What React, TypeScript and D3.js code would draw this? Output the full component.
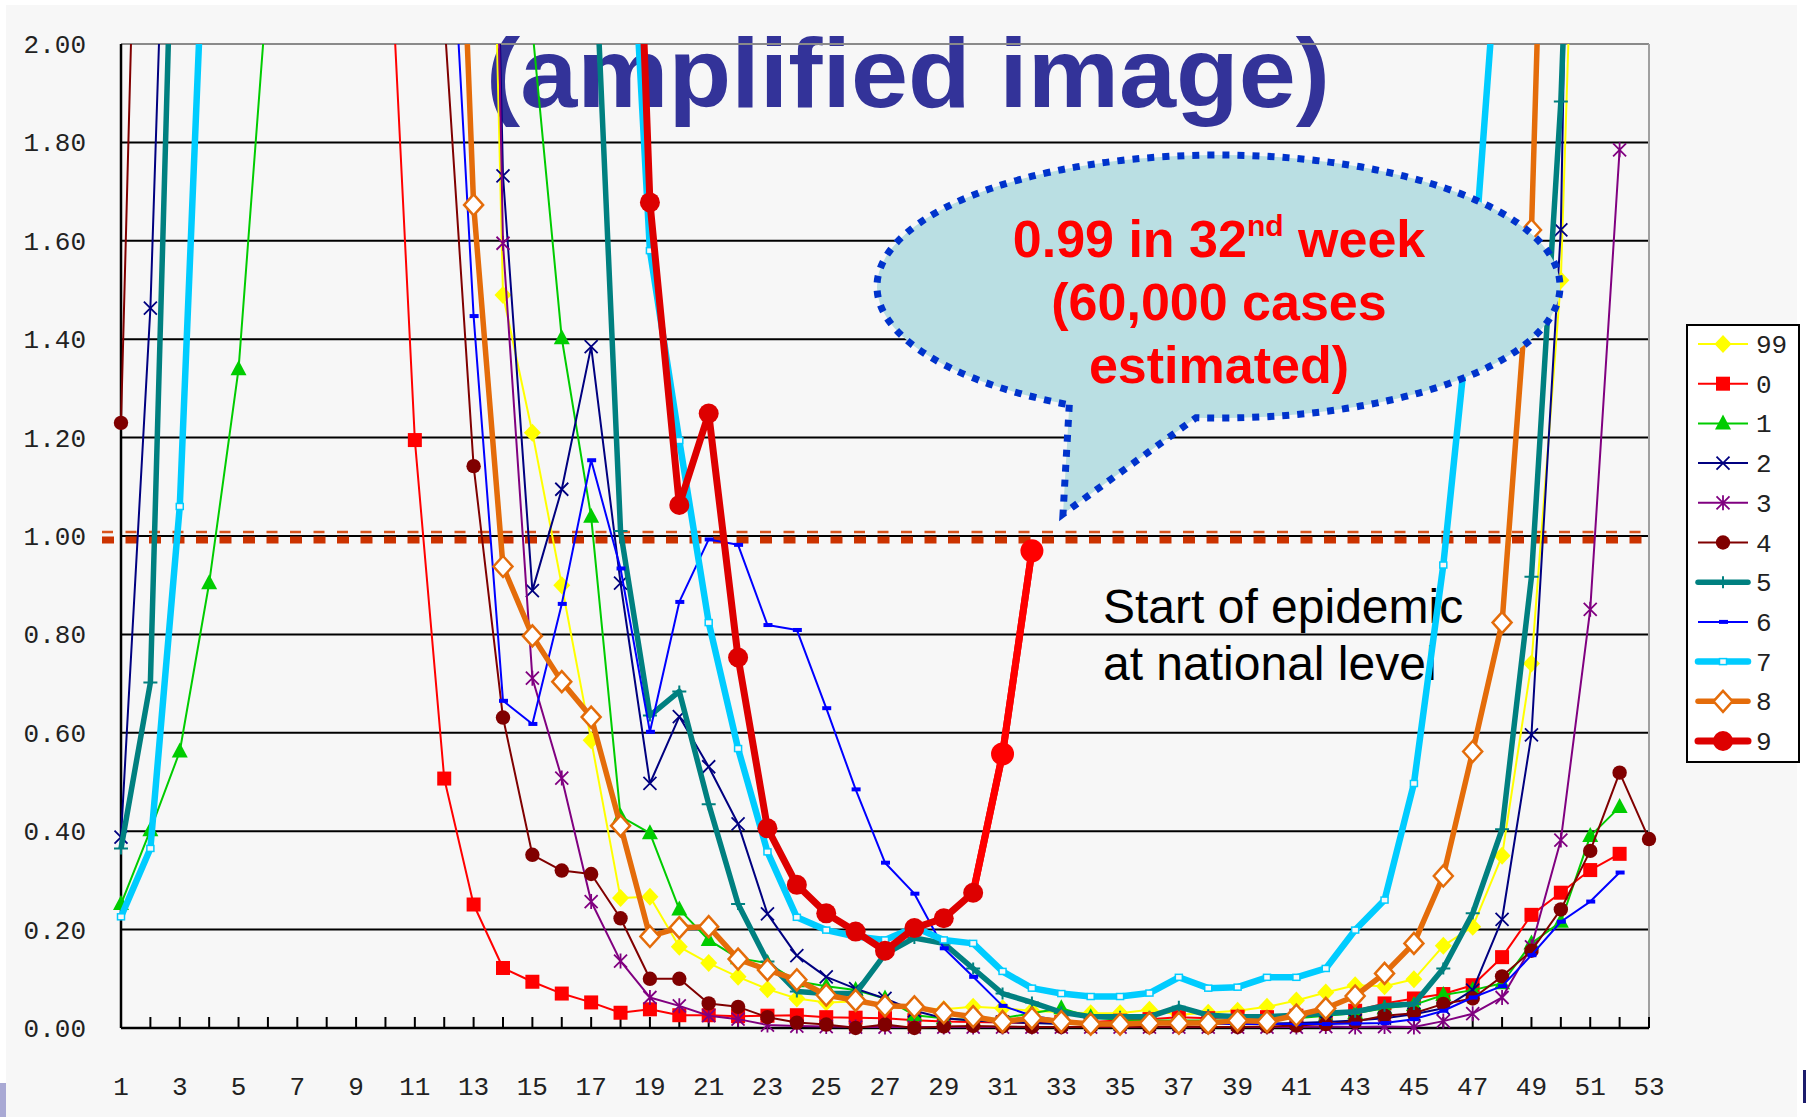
import React from 'react';
import * as d3 from 'd3';

// weekly ratio values, index 0 = week 1 ... index 52 = week 53 (null = not drawn / off chart)
const weeks = d3.range(1, 54);
const yTicks = [0, 0.2, 0.4, 0.6, 0.8, 1.0, 1.2, 1.4, 1.6, 1.8, 2.0];
const xLabelWeeks = d3.range(1, 54, 2);

const series99 = [
  null, null, null, null, null, null, null, null, null, null,
  null, null, 4.0, 1.49, 1.21, 0.9, 0.585, 0.264, 0.267, 0.165,
  0.132, 0.104, 0.079, 0.06, 0.052, 0.054, 0.043, 0.04, 0.038, 0.043,
  0.04, 0.035, 0.032, 0.03, 0.03, 0.037, 0.027, 0.031, 0.035, 0.043,
  0.056, 0.072, 0.087, 0.085, 0.099, 0.167, 0.206, 0.35, 0.741, 1.52,
  3.4, null, null,
];
const series0 = [
  null, null, null, null, null, null, null, null, null, 2.4,
  1.195, 0.507, 0.251, 0.122, 0.094, 0.07, 0.052, 0.031, 0.038, 0.026,
  0.026, 0.024, 0.025, 0.026, 0.022, 0.021, 0.02, 0.016, 0.013, 0.012,
  0.011, 0.01, 0.012, 0.012, 0.015, 0.018, 0.022, 0.02, 0.023, 0.022,
  0.025, 0.03, 0.035, 0.05, 0.06, 0.069, 0.087, 0.144, 0.23, 0.275,
  0.321, 0.354, null,
];
const series1 = [
  0.252, 0.402, 0.562, 0.904, 1.339, 2.13, null, null, null, null,
  null, null, null, null, 2.03, 1.402, 1.039, 0.43, 0.396, 0.241,
  0.179, 0.142, 0.132, 0.095, 0.085, 0.077, 0.06, 0.026, 0.02, 0.016,
  0.02, 0.03, 0.04, 0.022, 0.016, 0.015, 0.015, 0.015, 0.015, 0.016,
  0.02, 0.025, 0.03, 0.04, 0.047, 0.067, 0.077, 0.091, 0.172, 0.216,
  0.39, 0.449, null,
];
const series2 = [
  0.388, 1.463, 3.3, null, null, null, null, null, null, null,
  null, null, 4.4, 1.732, 0.889, 1.095, 1.385, 0.904, 0.497, 0.633,
  0.531, 0.415, 0.232, 0.147, 0.104, 0.08, 0.06, 0.035, 0.02, 0.015,
  0.012, 0.01, 0.008, 0.008, 0.008, 0.008, 0.008, 0.008, 0.008, 0.009,
  0.01, 0.012, 0.015, 0.02, 0.028, 0.04, 0.077, 0.221, 0.596, 1.622,
  5.0, null, null,
];
const series3 = [
  null, null, null, null, null, null, null, null, null, null,
  null, null, 4.7, 1.595, 0.711, 0.508, 0.257, 0.136, 0.062, 0.045,
  0.025, 0.018, 0.006, 0.004, 0.003, 0.002, 0.002, 0.002, 0.002, 0.002,
  0.002, 0.002, 0.002, 0.002, 0.002, 0.002, 0.002, 0.002, 0.002, 0.002,
  0.002, 0.003, 0.002, 0.003, 0.002, 0.014, 0.029, 0.062, 0.165, 0.382,
  0.851, 1.785, null,
];
const series4 = [
  1.23, 3.5, null, null, null, null, null, null, null, null,
  null, 2.055, 1.142, 0.631, 0.352, 0.32, 0.313, 0.223, 0.1, 0.1,
  0.05, 0.043, 0.022, 0.011, 0.007, 0.0, 0.007, 0.0, 0.003, 0.004,
  0.003, 0.002, 0.002, 0.002, 0.003, 0.002, 0.003, 0.002, 0.002, 0.003,
  0.005, 0.008, 0.013, 0.025, 0.03, 0.049, 0.06, 0.105, 0.157, 0.241,
  0.36, 0.519, 0.384,
];
const series5 = [
  0.365, 0.702, 2.83, null, null, null, null, null, null, null,
  null, null, null, null, null, null, 2.37, 1.01, 0.635, 0.684,
  0.455, 0.252, 0.135, 0.074, 0.07, 0.07, 0.15, 0.183, 0.172, 0.121,
  0.07, 0.052, 0.032, 0.023, 0.023, 0.023, 0.043, 0.026, 0.023, 0.023,
  0.026, 0.03, 0.033, 0.045, 0.049, 0.121, 0.233, 0.404, 0.917, 1.883,
  3.5, null, null,
];
const series6 = [
  null, null, null, null, null, null, null, null, null, null,
  null, 2.53, 1.447, 0.665, 0.618, 0.862, 1.154, 0.934, 0.602, 0.866,
  0.993, 0.982, 0.819, 0.809, 0.65, 0.485, 0.336, 0.273, 0.162, 0.104,
  0.045, 0.025, 0.015, 0.01, 0.009, 0.008, 0.008, 0.008, 0.008, 0.008,
  0.008, 0.008, 0.009, 0.01, 0.018, 0.035, 0.062, 0.085, 0.148, 0.216,
  0.257, 0.316, null,
];
const series7 = [
  0.226, 0.365, 1.06, 2.5, null, null, null, null, null, null,
  null, null, null, null, null, null, null, 2.68, 1.58, 1.194,
  0.824, 0.568, 0.358, 0.225, 0.199, 0.186, 0.179, 0.205, 0.179, 0.172,
  0.115, 0.081, 0.07, 0.064, 0.064, 0.071, 0.103, 0.081, 0.083, 0.103,
  0.103, 0.121, 0.199, 0.26, 0.497, 0.941, 1.52, 2.32, null, null,
  null, null, null,
];
const series8 = [
  null, null, null, null, null, null, null, null, null, null,
  null, 3.2, 1.673, 0.938, 0.797, 0.704, 0.632, 0.411, 0.186, 0.204,
  0.206, 0.14, 0.118, 0.098, 0.067, 0.056, 0.045, 0.043, 0.031, 0.023,
  0.013, 0.02, 0.013, 0.008, 0.008, 0.01, 0.01, 0.01, 0.015, 0.013,
  0.026, 0.04, 0.065, 0.111, 0.172, 0.309, 0.562, 0.824, 1.622, 3.6,
  null, null, null,
];
const series9 = [
  null, null, null, null, null, null, null, null, null, null,
  null, null, null, null, null, null, null, 3.3, 1.678, 1.063,
  1.249, 0.753, 0.406, 0.291, 0.233, 0.196, 0.157, 0.203, 0.223, 0.275,
  0.557, 0.97, null, null, null, null, null, null, null, null,
  null, null, null, null, null, null, null, null, null, null,
  null, null, null,
];

const seriesNames = ['99', '0', '1', '2', '3', '4', '5', '6', '7', '8', '9'];
const seriesValues = [series99, series0, series1, series2, series3, series4, series5, series6, series7, series8, series9];
const seriesColors = ['#ffff00', '#ff0000', '#00cc00', '#000080', '#800080', '#800000', '#008080', '#0000ff', '#00ccff', '#e46c0a', '#dd0000'];
const seriesWidths = [2, 2, 2, 2, 2, 2, 5.5, 2, 6.5, 5.5, 7];
const seriesMarkers = ['diamond', 'square', 'triangle', 'x', 'asterisk', 'circle', 'plus', 'dash', 'box', 'openDiamond', 'bigCircle'];

const thresholdValues = [1.008, 0.992];

const W = 1806;
const H = 1117;

const x = d3.scaleLinear().domain([1, 53]).range([121, 1649]);
const y = d3.scaleLinear().domain([0, 2]).range([1028, 44]);

function Marker({ kind, cx, cy, color, big }: { kind: string; cx: number; cy: number; color: string; big?: boolean }) {
  switch (kind) {
    case 'diamond':
      return <path d={`M${cx},${cy - 9}L${cx + 8.5},${cy}L${cx},${cy + 9}L${cx - 8.5},${cy}Z`} fill={color} />;
    case 'square':
      return <rect x={cx - 7} y={cy - 7} width={14} height={14} fill={color} />;
    case 'triangle':
      return <path d={`M${cx},${cy - 9}L${cx + 8},${cy + 6}L${cx - 8},${cy + 6}Z`} fill={color} />;
    case 'x':
      return (
        <path d={`M${cx - 6.5},${cy - 6.5}L${cx + 6.5},${cy + 6.5}M${cx - 6.5},${cy + 6.5}L${cx + 6.5},${cy - 6.5}`} stroke={color} strokeWidth={1.8} />
      );
    case 'asterisk':
      return (
        <path
          d={`M${cx - 6.5},${cy - 6.5}L${cx + 6.5},${cy + 6.5}M${cx - 6.5},${cy + 6.5}L${cx + 6.5},${cy - 6.5}M${cx},${cy - 7.5}L${cx},${cy + 7.5}`}
          stroke={color}
          strokeWidth={1.8}
        />
      );
    case 'circle':
      return <circle cx={cx} cy={cy} r={7.2} fill={color} />;
    case 'plus':
      return <path d={`M${cx - 7},${cy}L${cx + 7},${cy}M${cx},${cy - 6}L${cx},${cy + 6}`} stroke={color} strokeWidth={2} />;
    case 'dash':
      return <rect x={cx - 4} y={cy - 2} width={9} height={4} fill={color} />;
    case 'box':
      return <rect x={cx - 3.5} y={cy - 3} width={7} height={6} fill="#f7f7f7" stroke={color} strokeWidth={1.5} />;
    case 'openDiamond':
      return (
        <path d={`M${cx},${cy - 10.5}L${cx + 9.5},${cy}L${cx},${cy + 10.5}L${cx - 9.5},${cy}Z`} fill="#ffffff" stroke={color} strokeWidth={2.5} />
      );
    case 'bigCircle':
      return <circle cx={cx} cy={cy} r={big ? 11.5 : 10} fill={color} />;
    default:
      return null;
  }
}

export default function App() {
  const line = (vals: (number | null)[], from = 0) =>
    d3
      .line<number | null>()
      .defined((v, i) => v != null && i >= from)
      .x((_, i) => x(weeks[i]))
      .y((v) => y(v as number))(vals) || '';

  // callout geometry
  const ecx = 1218.5, ecy = 286.5, erx = 341.5, ery = 131.5;
  const tailL = [1069.3, ecy + ery * Math.sqrt(1 - ((1069.3 - ecx) / erx) ** 2)];
  const tailR = [1196, ecy + ery * Math.sqrt(1 - ((1196 - ecx) / erx) ** 2)];
  const tip = [1063, 514];
  const calloutPath = `M${tailL[0]},${tailL[1]}L${tip[0]},${tip[1]}L${tailR[0]},${tailR[1]}A${erx},${ery} 0 1 0 ${tailL[0]},${tailL[1]}Z`;

  const legendX = 1687, legendY = 325, legendW = 112, legendH = 437;

  return (
    <svg
      width={W}
      height={H}
      style={{ position: 'absolute', left: 0, top: 0, display: 'block', background: '#ffffff' }}
      fontFamily="Liberation Sans, Arial, sans-serif"
    >
      <defs>
        <clipPath id="plotClip">
          <rect x={90} y={44} width={1600} height={H - 44} />
        </clipPath>
      </defs>
      <rect x={6} y={5} width={1791} height={H - 5} fill="#f7f7f7" />
      <rect x={0} y={1083} width={6} height={34} fill="#a9a9d4" />
      <rect x={1803} y={1070} width={3} height={33} fill="#1c1c6c" />

      {/* title */}
      <text
        x={908}
        y={107}
        textAnchor="middle"
        fontSize={98}
        fontWeight="bold"
        fill="#333399"
        textLength={844}
        lengthAdjust="spacingAndGlyphs"
      >
        (amplified image)
      </text>

      {/* grid */}
      {yTicks.map((t) => (
        <line
          key={t}
          x1={x(1)}
          x2={x(53)}
          y1={y(t)}
          y2={y(t)}
          stroke={t === 2 ? '#8a8a8a' : '#000000'}
          strokeWidth={2}
        />
      ))}
      <line x1={x(53)} x2={x(53)} y1={y(2)} y2={y(0)} stroke="#a0a0a0" strokeWidth={2} />
      <line x1={x(1)} x2={x(1)} y1={y(2)} y2={y(0)} stroke="#000" strokeWidth={2.5} />
      <line x1={x(1)} x2={x(53)} y1={y(0)} y2={y(0)} stroke="#000" strokeWidth={2.5} />
      {weeks.map((w) => (
        <line key={w} x1={x(w)} x2={x(w)} y1={y(0)} y2={y(0) - 11} stroke="#000" strokeWidth={2} />
      ))}

      {/* axis labels */}
      {yTicks.map((t) => (
        <text key={t} x={86} y={y(t) + 9} textAnchor="end" fontSize={26} fontFamily="Liberation Mono, monospace" fill="#222">
          {t.toFixed(2)}
        </text>
      ))}
      {xLabelWeeks.map((w) => (
        <text key={w} x={x(w)} y={1095} textAnchor="middle" fontSize={26} fontFamily="Liberation Mono, monospace" fill="#222">
          {w}
        </text>
      ))}

      {/* threshold dashed lines */}
      <line x1={102} x2={x(53)} y1={y(thresholdValues[0])} y2={y(thresholdValues[0])} stroke="#d9541c" strokeWidth={2.5} strokeDasharray="11 12.5" />
      <line x1={102} x2={x(53)} y1={y(thresholdValues[1])} y2={y(thresholdValues[1])} stroke="#cc3300" strokeWidth={7} strokeDasharray="12 11.5" />

      <text x={1103} y={623} fontSize={48} fill="#000">Start of epidemic</text>
      <text x={1103} y={680} fontSize={48} fill="#000">at national level</text>

      {/* series */}
      <g clipPath="url(#plotClip)">
        {seriesValues.map((vals, si) => (
          <g key={seriesNames[si]}>
            <path
              d={line(vals)}
              fill="none"
              stroke={seriesColors[si]}
              strokeWidth={seriesWidths[si]}
              strokeLinejoin="round"
            />
            {si === 10 && (
              <path d={line(vals, 29)} fill="none" stroke="#ff0000" strokeWidth={seriesWidths[si]} strokeLinejoin="round" />
            )}
            {vals.map((v, i) =>
              v != null && v <= 2 ? (
                <Marker
                  key={i}
                  kind={seriesMarkers[si]}
                  cx={x(weeks[i])}
                  cy={y(v)}
                  color={si === 10 && weeks[i] >= 31 ? '#ff0000' : seriesColors[si]}
                  big={weeks[i] >= 31}
                />
              ) : null
            )}
          </g>
        ))}
      </g>

      {/* callout */}
      <path d={calloutPath} fill="#badfe3" stroke="#0033cc" strokeWidth={7} strokeDasharray="7 8" />
      <text x={1219} y={257} textAnchor="middle" fontSize={52} fontWeight="bold" fill="#ff0000">
        <tspan>0.99 in 32</tspan>
        <tspan fontSize={30} dy={-21}>nd</tspan>
        <tspan dy={21}> week</tspan>
      </text>
      <text x={1219} y={320} textAnchor="middle" fontSize={52} fontWeight="bold" fill="#ff0000">
        (60,000 cases
      </text>
      <text x={1219} y={383} textAnchor="middle" fontSize={52} fontWeight="bold" fill="#ff0000">
        estimated)
      </text>

      {/* legend */}
      <rect x={legendX} y={legendY} width={legendW} height={legendH} fill="#ffffff" stroke="#000" strokeWidth={2} />
      {seriesNames.map((name, si) => {
        const ly = 344 + si * 39.7;
        return (
          <g key={name}>
            <line
              x1={1698}
              x2={1748}
              y1={ly}
              y2={ly}
              stroke={seriesColors[si]}
              strokeWidth={seriesWidths[si]}
              strokeLinecap={seriesWidths[si] > 3 ? 'round' : 'butt'}
            />
            <Marker kind={seriesMarkers[si]} cx={1723} cy={ly} color={seriesColors[si]} />
            <text x={1756} y={ly + 9} fontSize={26} fontFamily="Liberation Mono, monospace" fill="#222">
              {name}
            </text>
          </g>
        );
      })}
    </svg>
  );
}
